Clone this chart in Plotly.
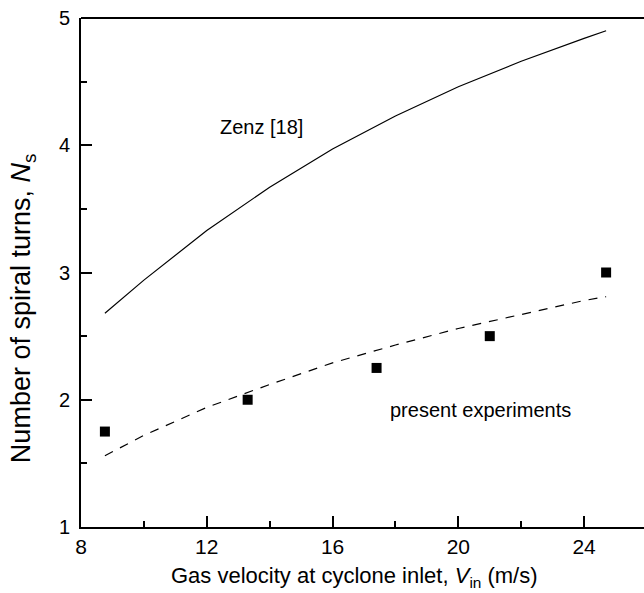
import plotly.graph_objects as go

# Measured number of spiral turns vs inlet velocity
exp_velocity = [8.76, 13.3, 17.4, 21.0, 24.7]
exp_turns = [1.75, 2.0, 2.25, 2.5, 3.0]

# Fit through the present experiments (dashed)
fit_velocity = [8.76, 10, 12, 14, 16, 18, 20, 22, 24, 24.7]
fit_turns = [1.56, 1.72, 1.94, 2.12, 2.29, 2.43, 2.56, 2.67, 2.78, 2.81]

# Zenz correlation (solid)
zenz_velocity = [8.76, 10, 12, 14, 16, 18, 20, 22, 24, 24.7]
zenz_turns = [2.68, 2.94, 3.33, 3.67, 3.97, 4.23, 4.46, 4.66, 4.84, 4.90]

x_ticks = [8, 12, 16, 20, 24]
y_ticks = [1, 2, 3, 4, 5]

FONT = "Liberation Sans, Arial, sans-serif"

fig = go.Figure()
fig.add_trace(go.Scatter(x=zenz_velocity, y=zenz_turns, mode="lines",
                         line=dict(color="black", width=1.2), showlegend=False))
fig.add_trace(go.Scatter(x=fit_velocity, y=fit_turns, mode="lines",
                         line=dict(color="black", width=1.2, dash="9px,8px"),
                         showlegend=False))
fig.add_trace(go.Scatter(x=exp_velocity, y=exp_turns, mode="markers",
                         marker=dict(symbol="square", size=10, color="black"),
                         showlegend=False))

fig.add_annotation(x=12.35, y=4.14, text="Zenz [18]", showarrow=False,
                   xanchor="left", font=dict(size=20, color="black", family=FONT))
fig.add_annotation(x=17.76, y=1.92, text="present experiments", showarrow=False,
                   xanchor="left", font=dict(size=20, color="black", family=FONT))

# axis titles
fig.add_annotation(xref="paper", yref="paper", x=0.485, y=0, yanchor="top", yshift=-34,
                   xanchor="center",
                   text="Gas velocity at cyclone inlet, <i>V</i><sub>in</sub> (m/s)",
                   showarrow=False, font=dict(size=22, color="black", family=FONT))
fig.add_annotation(xref="paper", yref="paper", x=0, y=0.43, xshift=-58, textangle=-90,
                   xanchor="center", yanchor="middle",
                   text="Number of spiral turns, <i>N</i><sub>s</sub>",
                   showarrow=False, font=dict(size=27, color="black", family=FONT))

# top frame line (the right side runs off the page)
fig.add_shape(type="line", xref="paper", yref="paper", x0=0, x1=1, y0=1, y1=1,
              line=dict(color="black", width=2))

axis_common = dict(
    showline=True, linecolor="black", linewidth=2,
    ticks="inside", ticklen=11, tickwidth=2, tickcolor="black",
    showgrid=False, zeroline=False,
    minor=dict(ticks="inside", ticklen=6, tickwidth=2, tickcolor="black"),
)

fig.update_xaxes(range=[8, 25.905], tickvals=x_ticks, ticktext=[str(v) for v in x_ticks],
                 minor_dtick=2, minor_tick0=8,
                 tickfont=dict(size=21, color="black", family=FONT),
                 **axis_common)
fig.update_yaxes(range=[1, 5], tickvals=y_ticks, ticktext=[str(v) for v in y_ticks],
                 minor_dtick=0.5, minor_tick0=1, ticklabelstandoff=5,
                 tickfont=dict(size=20, color="black", family=FONT),
                 **axis_common)

fig.update_layout(width=644, height=593,
                  margin=dict(l=81, r=0, t=18, b=66),
                  plot_bgcolor="white", paper_bgcolor="white")

fig.write_html("out.html")
